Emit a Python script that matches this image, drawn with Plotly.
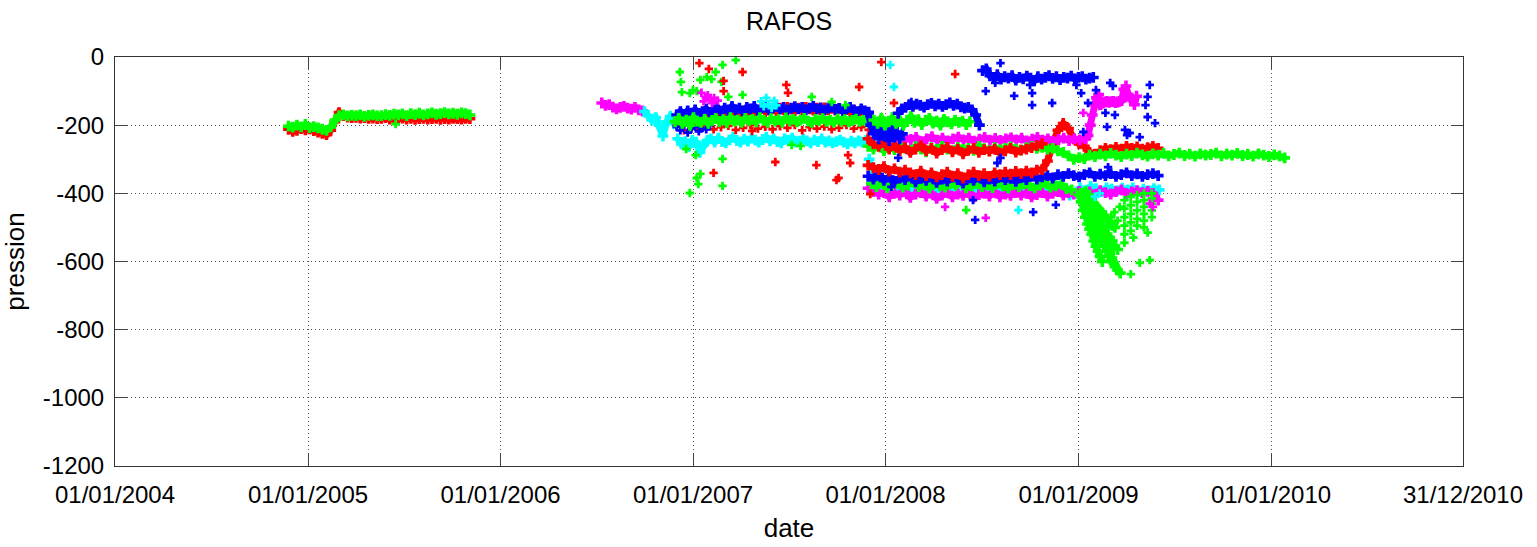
import pandas as pd
import plotly.graph_objects as go

# ---------------- axis ticks ----------------
x_tick_dates = ["2004-01-01", "2005-01-01", "2006-01-01", "2007-01-01",
                "2008-01-01", "2009-01-01", "2010-01-01", "2010-12-31"]
x_tick_labels = ["01/01/2004", "01/01/2005", "01/01/2006", "01/01/2007",
                 "01/01/2008", "01/01/2009", "01/01/2010", "31/12/2010"]
y_tick_values = [-1200, -1000, -800, -600, -400, -200, 0]

RED, GREEN, BLUE, CYAN, MAGENTA = "#ff0000", "#00ff00", "#0000ff", "#00ffff", "#ff00ff"

# ---------------- regular float series (start date, step in days, pressures) ----------------
red_2005_start, red_2005_step = "2004-11-25", 8
red_2005 = [-212, -218, -215, -210, -214, -211, -216, -220, -224, -228, -215, -190, -163, -172,
            -176, -178, -177, -179, -178, -180, -179, -181, -180, -178, -182, -180, -181, -179,
            -182, -180, -183, -181, -180, -182, -181, -180, -183, -181, -182, -180, -181, -182,
            -180, -181]

green_2005_start, green_2005_step = "2004-11-25", 8
green_2005 = [-203, -206, -200, -205, -198, -207, -204, -208, -212, -215, -205, -185, -172, -170,
              -173, -171, -172, -170, -174, -171, -170, -173, -172, -169, -171, -168, -170, -167,
              -172, -166, -169, -165, -170, -167, -164, -168, -166, -163, -167, -165, -168, -164,
              -166, -170]

magenta_2006_start, magenta_2006_step = "2006-07-12", 7
magenta_2006 = [-135, -142, -140, -147, -152, -148, -145, -150, -153, -148, -155, -158]

cyan_2006_start, cyan_2006_step = "2006-10-01", 7
cyan_2006 = [-160, -172, -185, -178, -200, -232, -190, -175, -195, -180]

cyan_2007_start, cyan_2007_step = "2006-12-03", 7
cyan_2007 = [-240, -255, -248, -262, -245, -250, -280, -258, -245, -240,
             -250, -238, -248, -252, -243, -236, -245, -250, -241, -247,
             -238, -244, -250, -242, -236, -246, -240, -248, -252, -240,
             -245, -238, -250, -247, -241, -246, -252, -244, -248, -240,
             -250, -246, -252, -248, -244, -250, -255, -247, -252, -246,
             -250, -245]

blue_2007_start, blue_2007_step = "2006-12-01", 7
blue_2007 = [-170, -160, -175, -158, -165, -155, -168, -160, -152, -163, -155, -148, -160, -150,
             -158, -145, -155, -150, -160, -148, -152, -145, -158, -150, -147, -155, -150, -145,
             -153, -148, -156, -150, -146, -152, -148, -155, -150, -145, -153, -149, -156, -150,
             -147, -154, -151, -158, -152, -148, -155, -160, -152, -158, -162]

green_2007_start, green_2007_step = "2006-11-28", 7
green_2007 = [-190, -180, -195, -185, -200, -178, -188, -192, -182, -195, -186, -180, -190, -184,
              -193, -178, -188, -185, -192, -180, -187, -183, -190, -178, -186, -192, -181, -188,
              -184, -191, -179, -187, -183, -190, -185, -180, -188, -192, -183, -187, -181, -189,
              -185, -191, -182, -188, -184, -190, -186, -182, -189, -185, -191, -187]

red_2007_start, red_2007_step = "2007-01-05", 7
red_2007 = [-185, -178, -190, -175, -182, -170, -178, -168, -175, -165, -172, -160, -168, -158,
            -165, -155, -162, -158, -150, -160, -155, -152, -158, -150, -155, -148, -153, -157,
            -150, -155, -148, -152, -156, -150, -154, -149, -155, -151, -156, -152, -158, -154,
            -160, -156, -162, -158, -165]

red_2007b_start, red_2007b_step = "2006-12-01", 14
red_2007b = [-200, -215, -205, -210, -198, -212, -206, -202, -214, -208, -200, -210, -205, -212,
             -203, -208, -200, -215, -206, -210, -204, -212, -208, -200, -210, -206, -214]

blue_2007b_start, blue_2007b_step = "2006-12-01", 7
blue_2007b = [-205, -215, -200, -222, -210, -204, -218, -208, -212, -200]

red_2008_low_start, red_2008_low_step = "2007-11-29", 10
red_2008_low = [-318, -325, -330, -322, -335, -328, -338, -332, -340, -345, -335, -348, -340, -352,
                -345, -338, -350, -342, -355, -345, -338, -348, -342, -350, -340, -345, -338, -344,
                -336, -342, -335, -340, -332, -330, -305, -255, -215, -195, -210, -240, -255, -262,
                -280, -285, -275, -268, -272, -265, -270, -262, -268, -264, -270, -266, -262, -268]

red_2008_up_start, red_2008_up_step = "2007-11-29", 10
red_2008_up = [-240, -255, -262, -250, -270, -258, -275, -265, -280, -270, -260, -275, -268, -282,
               -272, -265, -278, -270, -284, -274, -268, -280, -272, -276, -270, -282, -275, -268,
               -279, -273, -270, -266, -260, -255]

green_2008_up_start, green_2008_up_step = "2007-11-29", 10
green_2008_up = [-262, -270, -258, -275, -265, -272, -260, -268, -275, -263, -270, -278, -266, -272,
                 -262, -270, -276, -265, -271, -268, -274, -262, -269, -275, -266, -272, -268, -264,
                 -270, -273, -266, -262, -268, -265,
                 -270, -268, -275, -280, -290, -300, -295, -298, -288, -292, -285, -290, -283, -288,
                 -292, -285, -289, -282, -287, -291, -284, -288, -283, -290, -286, -282, -289, -285,
                 -291, -284, -288, -286, -282, -290, -285, -288, -283, -289, -286, -291, -284, -288,
                 -292, -287, -290, -296]

green_2008_mid_start, green_2008_mid_step = "2007-12-10", 7
green_2008_mid = [-185, -195, -180, -200, -190, -178, -195, -185, -200, -188, -175, -192, -184, -198,
                  -186, -180, -194, -188, -200, -183, -190, -196, -185, -192, -188, -198, -190]

magenta_2008_up_start, magenta_2008_up_step = "2007-12-20", 10
magenta_2008_up = [-225, -232, -240, -235, -245, -238, -242, -236, -248, -240, -234, -244, -238, -246,
                   -240, -235, -243, -238, -247, -241, -236, -244, -239, -245, -240, -237, -243, -238,
                   -246, -241, -236, -244, -240, -247, -242, -238, -245, -240, -243, -238]

magenta_2009_start, magenta_2009_step = "2009-01-15", 4
magenta_2009 = [-240, -230, -200, -170, -140, -120, -110, -140, -135, -132, -130, -133, -131, -130,
                -134, -132, -130, -128, -95, -85, -110, -120, -125, -140, -115]

blue_2008_low_start, blue_2008_low_step = "2007-11-29", 10
blue_2008_low = [-350, -358, -345, -362, -352, -365, -355, -360, -348, -366, -356, -362, -350, -368,
                 -358, -364, -352, -360, -370, -355, -362, -350, -366, -358, -364, -352, -360, -356,
                 -365, -354, -360, -350, -358, -352, -348, -355, -345, -350, -342, -348, -352, -345,
                 -340, -350, -344, -348, -342, -350, -345, -340, -348, -343, -350, -345, -342, -348]

cyan_2008_start, cyan_2008_step = "2007-12-01", 10
cyan_2008 = [-300, -370, -385, -378, -390, -380, -386, -375, -392, -382, -378, -388, -380, -395,
             -384, -376, -390, -382, -386, -378, -392, -384, -380, -388, -376, -386, -382, -390,
             -380, -385, -378, -388, -384, -380, -392, -386, -380, -395, -405, -400, -385, -392,
             -380, -386, -395, -384, -388, -392, -385, -390, -384, -395, -388, -392, -386, -390]

green_2008_low_start, green_2008_low_step = "2007-12-05", 10
green_2008_low = [-372, -380, -368, -384, -375, -370, -382, -376, -366, -380, -374, -385, -370, -378,
                  -382, -372, -376, -368, -384, -378, -372, -380, -375, -383, -370, -378, -385, -374,
                  -380, -372, -377, -384, -376, -370, -382, -378, -374, -386, -390]

magenta_2008_low_start, magenta_2008_low_step = "2007-11-29", 10
magenta_2008_low = [-385, -395, -402, -398, -410, -400, -405, -396, -412, -402, -398, -408, -400, -415,
                    -405, -398, -410, -402, -406, -398, -412, -404, -400, -408, -396, -410, -402, -406,
                    -398, -405, -400, -410, -404, -398, -408, -400, -395, -405, -398, -402, -394, -400,
                    -396, -404, -392, -398, -402, -395, -390, -400, -396, -392, -398, -394, -400, -420]

blue_2008_mid_start, blue_2008_mid_step = "2007-11-29", 5
blue_2008_mid = [-165, -200, -225, -210, -240, -190, -230, -215, -245, -205, -235, -220, -240, -225]

blue_2008_top1_start, blue_2008_top1_step = "2008-01-25", 7
blue_2008_top1 = [-165, -152, -148, -140, -145, -138, -142, -147, -140, -136, -143, -138, -145, -140,
                  -135, -142, -138, -146, -150, -148, -155, -170, -200]

blue_2008_top2_start, blue_2008_top2_step = "2008-07-03", 7
blue_2008_top2 = [-40, -35, -55, -60, -52, -65, -58, -62, -55, -68, -60, -64, -56, -62, -70, -58,
                  -65, -60, -55, -63, -58, -66, -60, -62, -56, -64, -60, -58, -65, -62, -60]

green_2009_s1_start, green_2009_s1_step = "2009-01-05", 5
green_2009_s1 = [-400, -420, -440, -460, -475, -490, -510, -525, -540, -555, -570, -585, -600, -615,
                 -625, -634]
green_2009_s2_start, green_2009_s2_step = "2009-01-10", 5
green_2009_s2 = [-400, -415, -430, -445, -455, -470, -480, -495, -505, -520, -530, -540, -555, -565]
green_2009_s3_start, green_2009_s3_step = "2009-01-15", 5
green_2009_s3 = [-395, -405, -420, -430, -440, -448, -455, -465, -475, -485, -495, -500]
green_2009_s4_start, green_2009_s4_step = "2009-01-02", 4
green_2009_s4 = [-405, -425, -450, -470, -490, -505, -520, -540, -555, -570, -585, -600]
green_2009_s5_start, green_2009_s5_step = "2009-01-20", 4
green_2009_s5 = [-410, -430, -445, -460, -480, -495, -510, -525, -540, -560, -575, -590, -605]

# ---------------- scattered points (date, pressure) ----------------
green_scatter_dates = ["2006-12-07", "2006-12-09", "2006-12-11", "2006-12-26", "2007-01-01", "2007-01-08",
                       "2007-01-15", "2007-01-27", "2007-02-05", "2007-02-13", "2007-02-26", "2007-03-23",
                       "2007-02-24", "2007-03-09", "2007-04-05", "2006-12-19", "2007-01-06", "2007-02-26",
                       "2007-01-08", "2007-01-15", "2007-01-11", "2007-02-26", "2006-12-26", "2007-07-07",
                       "2007-07-24", "2007-10-17", "2007-08-14", "2007-09-21", "2005-06-16", "2008-06-02",
                       "2009-04-10", "2009-04-27", "2009-05-16",
                       "2009-03-29", "2009-03-29", "2009-03-29", "2009-03-29", "2009-03-29", "2009-03-29",
                       "2009-04-10", "2009-04-10", "2009-04-10", "2009-04-10", "2009-04-10",
                       "2009-04-22", "2009-04-22", "2009-04-22", "2009-04-22", "2009-04-22",
                       "2009-05-05", "2009-05-05", "2009-05-05", "2009-05-05", "2009-05-05", "2009-05-05",
                       "2009-05-20", "2009-05-20", "2009-05-20", "2009-05-20", "2009-05-20",
                       "2009-03-04", "2009-03-10", "2009-03-16", "2009-03-20", "2009-04-15", "2009-05-12"]
green_scatter_values = [-44, -73, -103, -106, -97, -100, -67, -59, -65, -44, -23, -9, -73, -117, -111,
                        -270, -288, -299, -355, -343, -373, -378, -399, -258, -261, -141, -117, -132,
                        -197, -449, -637, -604, -596,
                        -420, -445, -470, -495, -520, -545,
                        -410, -435, -460, -485, -510,
                        -405, -425, -450, -475, -495,
                        -400, -420, -440, -460, -480, -500,
                        -400, -415, -430, -450, -470,
                        -470, -455, -480, -440, -530, -515]

red_scatter_dates = ["2007-01-13", "2007-01-31", "2007-04-05", "2007-02-28", "2007-02-28", "2007-06-27",
                     "2007-06-30", "2007-11-12", "2007-12-24", "2008-05-12", "2007-06-06", "2007-08-23",
                     "2007-02-09", "2007-09-30", "2007-10-04", "2007-10-26", "2007-10-22", "2007-12-03",
                     "2008-01-17", "2007-04-23"]
red_scatter_values = [-18, -35, -44, -70, -100, -82, -105, -88, -15, -50, -308, -317, -340, -361, -355,
                      -311, -288, -402, -135, -217]

blue_scatter_dates = ["2008-02-19", "2008-08-06", "2008-07-09", "2008-07-27", "2008-09-01", "2008-10-01",
                      "2008-10-05", "2008-10-05", "2008-11-12", "2008-12-28", "2009-01-06", "2009-01-19",
                      "2009-02-03", "2009-03-02", "2009-03-07", "2009-02-21", "2009-02-24", "2009-03-30",
                      "2009-04-08", "2009-04-27", "2009-05-16", "2009-05-12", "2008-08-06", "2008-07-31",
                      "2008-06-15", "2008-06-19", "2008-10-07", "2008-11-19", "2008-01-25", "2008-01-12",
                      "2009-03-11", "2009-05-08", "2009-05-12", "2009-05-26", "2009-01-10", "2009-02-26",
                      "2009-04-03"]
blue_scatter_values = [-132, -18, -100, -76, -114, -82, -106, -141, -135, -82, -106, -135, -97, -76, -85,
                       -164, -205, -214, -223, -235, -82, -176, -296, -311, -420, -478, -455, -434, -296,
                       -381, -170, -141, -117, -194, -220, -323, -229]

magenta_scatter_dates = ["2007-01-25", "2007-02-02", "2007-01-21", "2007-02-10", "2007-02-17", "2007-01-29",
                         "2007-01-17", "2007-02-06", "2008-04-23", "2008-07-09", "2009-01-10", "2009-05-22",
                         "2009-05-16"]
magenta_scatter_values = [-118, -125, -130, -120, -128, -112, -105, -135, -440, -472, -164, -440, -430]

cyan_scatter_dates = ["2008-01-10", "2008-01-17", "2007-05-10", "2007-05-15", "2007-05-20", "2007-05-25",
                      "2007-05-30", "2007-06-04", "2007-06-08", "2009-02-01", "2009-02-10", "2008-09-09"]
cyan_scatter_values = [-23, -88, -130, -145, -120, -138, -150, -128, -142, -410, -400, -449]

# ---------------- figure ----------------
fig = go.Figure()


def add_series(start, step, values, color, dense=True):
    dates = pd.date_range(start, periods=len(values), freq=f"{step}D")
    fig.add_trace(go.Scatter(x=dates, y=values, mode="lines+markers" if dense else "markers",
                             line=dict(color=color, width=7),
                             marker=dict(color=color, symbol="cross", size=9 if dense else 7,
                                         line=dict(width=0)),
                             hoverinfo="x+y"))


def add_points(dates, values, color):
    fig.add_trace(go.Scatter(x=pd.to_datetime(dates), y=values, mode="markers",
                             marker=dict(color=color, symbol="cross", size=7, line=dict(width=0)),
                             hoverinfo="x+y"))


add_series(magenta_2006_start, magenta_2006_step, magenta_2006, MAGENTA)
add_series(cyan_2006_start, cyan_2006_step, cyan_2006, CYAN)
add_series(cyan_2007_start, cyan_2007_step, cyan_2007, CYAN)
add_series(red_2007b_start, red_2007b_step, red_2007b, RED, dense=False)
add_series(blue_2007b_start, blue_2007b_step, blue_2007b, BLUE, dense=False)
add_series(red_2007_start, red_2007_step, red_2007, RED)
add_series(blue_2007_start, blue_2007_step, blue_2007, BLUE)
add_series(green_2007_start, green_2007_step, green_2007, GREEN)
add_series(red_2005_start, red_2005_step, red_2005, RED)
add_series(green_2005_start, green_2005_step, green_2005, GREEN)

add_series(cyan_2008_start, cyan_2008_step, cyan_2008, CYAN)
add_series(magenta_2008_low_start, magenta_2008_low_step, magenta_2008_low, MAGENTA)
add_series(green_2008_low_start, green_2008_low_step, green_2008_low, GREEN)
add_series(blue_2008_low_start, blue_2008_low_step, blue_2008_low, BLUE)
add_series(red_2008_low_start, red_2008_low_step, red_2008_low, RED)
add_series(magenta_2008_up_start, magenta_2008_up_step, magenta_2008_up, MAGENTA)
add_series(green_2008_up_start, green_2008_up_step, green_2008_up, GREEN)
add_series(red_2008_up_start, red_2008_up_step, red_2008_up, RED)
add_series(blue_2008_mid_start, blue_2008_mid_step, blue_2008_mid, BLUE)
add_series(green_2008_mid_start, green_2008_mid_step, green_2008_mid, GREEN)
add_series(blue_2008_top1_start, blue_2008_top1_step, blue_2008_top1, BLUE)
add_series(blue_2008_top2_start, blue_2008_top2_step, blue_2008_top2, BLUE)
add_series(magenta_2009_start, magenta_2009_step, magenta_2009, MAGENTA)
add_series(green_2009_s1_start, green_2009_s1_step, green_2009_s1, GREEN)
add_series(green_2009_s2_start, green_2009_s2_step, green_2009_s2, GREEN)
add_series(green_2009_s3_start, green_2009_s3_step, green_2009_s3, GREEN)
add_series(green_2009_s4_start, green_2009_s4_step, green_2009_s4, GREEN)
add_series(green_2009_s5_start, green_2009_s5_step, green_2009_s5, GREEN)

add_points(green_scatter_dates, green_scatter_values, GREEN)
add_points(red_scatter_dates, red_scatter_values, RED)
add_points(blue_scatter_dates, blue_scatter_values, BLUE)
add_points(magenta_scatter_dates, magenta_scatter_values, MAGENTA)
add_points(cyan_scatter_dates, cyan_scatter_values, CYAN)

FONT = "Liberation Sans, Arial, Helvetica, sans-serif"
axis_common = dict(
    showline=True, linecolor="#333333", linewidth=1, mirror="ticks",
    ticks="inside", ticklen=12, tickcolor="#444444", tickwidth=1,
    showgrid=True, gridcolor="#555555", griddash="1px,3px", gridwidth=1,
    zeroline=False, automargin=False,
    tickfont=dict(family=FONT, size=24, color="black"),
)

fig.update_layout(
    width=1537, height=547,
    margin=dict(l=115, r=74, t=57, b=81),
    paper_bgcolor="white", plot_bgcolor="white",
    showlegend=False,
    font=dict(family=FONT, size=24, color="black"),
    title=dict(text="RAFOS", x=0.5, xref="paper", xanchor="center",
               y=1 - 21 / 547, yref="container", yanchor="middle",
               font=dict(size=25, color="black")),
    xaxis=dict(type="date", range=["2004-01-01", "2010-12-31"],
               tickmode="array", tickvals=x_tick_dates, ticktext=x_tick_labels,
               ticklabelstandoff=7,
               title=dict(text="date", standoff=12, font=dict(size=26)),
               **axis_common),
    yaxis=dict(range=[-1200, 0], tickmode="array", tickvals=y_tick_values,
               ticktext=[str(v) for v in y_tick_values], ticklabelstandoff=5,
               title=dict(text="pression", standoff=13, font=dict(size=26)),
               **axis_common),
)

# remove the browser's default 8 px page margin so the figure sits at the window's corner
fig.write_html("out.html", config={"displayModeBar": False},
               post_script="document.body.style.margin='0px';")
